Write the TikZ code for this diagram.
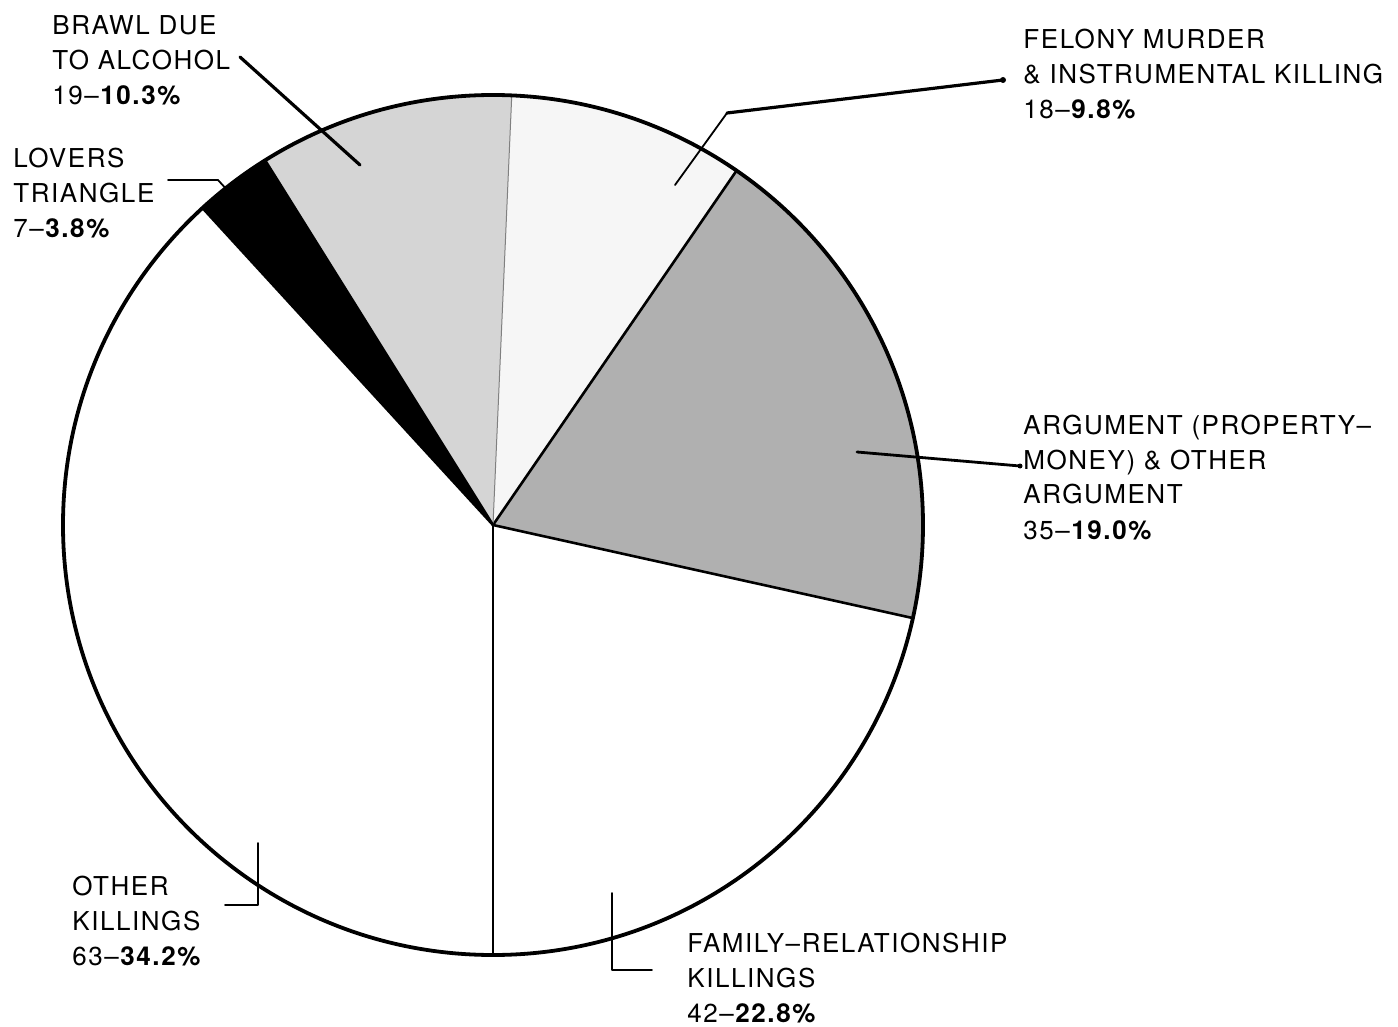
\documentclass[tikz,border=0pt]{standalone}
\usepackage{fontspec}
\setmainfont{TeX Gyre Heros}[LetterSpace=6]
\newcommand\mylines[1]{\vtop{\baselineskip=17.5pt\lineskiplimit=-20pt\lineskip=0pt #1}}
\begin{document}
\begin{tikzpicture}[x=0.5pt,y=0.5pt,
  lbl/.style={anchor=base west, inner sep=0pt, font=\fontsize{13}{17.5}\selectfont},
  leader/.style={line width=0.9pt, line cap=round, line join=round},
  thickleader/.style={line width=1.6pt, line cap=round},
  radial/.style={line width=1.3pt},
  rim/.style={line width=1.9pt}]
\useasboundingbox (0,0) rectangle (1398,-1027);
\coordinate (c) at (493,-525);
\def\R{430}
% slices
\fill[white] (c) circle[radius=\R];
\fill[gray!62] (c) -- ++(-12.5:\R) arc[start angle=-12.5,end angle=55.5,radius=\R] -- cycle;
\fill[gray!7] (c) -- ++(55.5:\R) arc[start angle=55.5,end angle=87.5,radius=\R] -- cycle;
\fill[gray!33] (c) -- ++(87.5:\R) arc[start angle=87.5,end angle=122,radius=\R] -- cycle;
\fill[black] (c) -- ++(122:\R) arc[start angle=122,end angle=132.5,radius=\R] -- cycle;
% radial edges
\draw[radial, line width=1pt] (c) -- ++(-90:\R);
\draw[radial] (c) -- ++(-12.5:\R);
\draw[radial] (c) -- ++(55.5:\R);
\draw[radial, line width=0.5pt, gray] (c) -- ++(87.5:\R);
\draw[radial] (c) -- ++(122:\R);
\draw[radial] (c) -- ++(132.5:\R);
\draw[rim] (c) circle[radius=\R];
% labels
\node[lbl] (brawl) at (52,-35) {\mylines{\hbox{BRAWL DUE}\hbox{TO ALCOHOL}\hbox{19–\textbf{10.3\%}}}};
\node[lbl] (lovers) at (13,-168) {\mylines{\hbox{LOVERS}\hbox{TRIANGLE}\hbox{7–\textbf{3.8\%}}}};
\node[lbl] (felony) at (1023,-49) {\mylines{\hbox{FELONY MURDER}\hbox{\& INSTRUMENTAL KILLING}\hbox{18–\textbf{9.8\%}}}};
\node[lbl] (argument) at (1023,-434) {\mylines{\hbox{ARGUMENT (PROPERTY–}\hbox{MONEY) \& OTHER}\hbox{ARGUMENT}\hbox{35–\textbf{19.0\%}}}};
\node[lbl] (other) at (72,-895) {\mylines{\hbox{OTHER}\hbox{KILLINGS}\hbox{63–\textbf{34.2\%}}}};
\node[lbl] (family) at (687,-952) {\mylines{\hbox{FAMILY–RELATIONSHIP}\hbox{KILLINGS}\hbox{42–\textbf{22.8\%}}}};
% leader coordinates
\coordinate (brawlA) at (240,-57);
\coordinate (brawlB) at (360,-165);
\coordinate (lovA) at (168,-180);
\coordinate (lovB) at (218,-180);
\coordinate (lovC) at (229,-192);
\coordinate (felA) at (675,-185);
\coordinate (felB) at (727,-113);
\coordinate (felC) at (1003,-80);
\coordinate (argA) at (857,-452);
\coordinate (argB) at (1020,-466);
\coordinate (othA) at (258,-843);
\coordinate (othB) at (258,-905);
\coordinate (othC) at (225,-905);
\coordinate (famA) at (612,-893);
\coordinate (famB) at (612,-970);
\coordinate (famC) at (652,-970);
% leaders
\draw[thickleader] (brawlA) -- (brawlB);
\draw[leader] (lovA) -- (lovB) -- (lovC);
\draw[leader] (felA) -- (felB);
\draw[thickleader] (felB) -- (felC);
\fill (felC) circle[radius=3];
\draw[leader, line width=1.4pt] (argA) -- (argB);
\fill (argB) circle[radius=2.5];
\draw[leader] (othA) -- (othB) -- (othC);
\draw[leader] (famA) -- (famB) -- (famC);
\end{tikzpicture}
\end{document}
